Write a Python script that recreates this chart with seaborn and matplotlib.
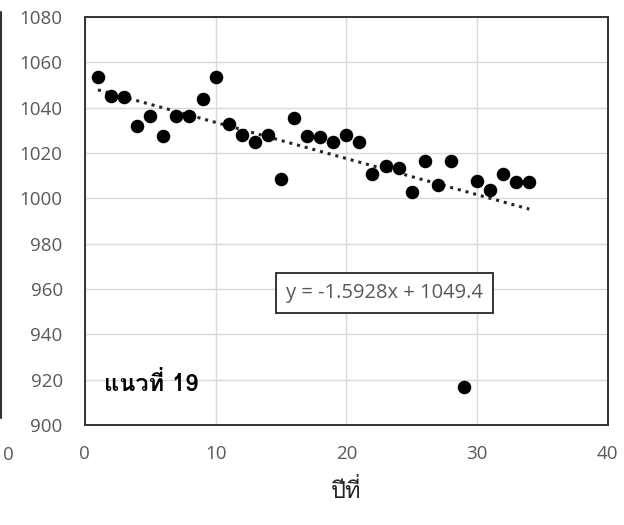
import numpy as np
import pandas as pd
import matplotlib
matplotlib.use("Agg")
import matplotlib.pyplot as plt
import seaborn as sns
from matplotlib.lines import Line2D

years = list(range(1, 35))
values = [1053.3, 1045.3, 1044.8, 1032.0, 1036.4, 1027.6, 1036.4, 1036.4, 1043.9, 1053.3,
          1032.6, 1028.0, 1025.0, 1028.0, 1008.6, 1035.5, 1027.6, 1027.2, 1025.0, 1027.8,
          1025.0, 1010.8, 1014.4, 1013.2, 1003.0, 1016.6, 1006.0, 1016.6, 916.8, 1007.8,
          1003.8, 1010.8, 1007.3, 1007.3]
trend_slope = -1.5928
trend_intercept = 1049.4
equation_text = "y = -1.5928x + 1049.4"
series_label = "แนวที่ 19"
x_label = "ปีที่"
x_ticks = [0, 10, 20, 30, 40]
y_ticks = [900, 920, 940, 960, 980, 1000, 1020, 1040, 1060, 1080]

df = pd.DataFrame({"year": years, "value": values})

sns.set_theme(style="white")
plt.rcParams['font.family'] = ['Open Sans', 'Loma', 'DejaVu Sans']
thai_fam = ['Loma', 'Open Sans', 'DejaVu Sans']

fig = plt.figure(figsize=(6.24, 5.25), dpi=100)
ax = fig.add_axes([0.136, 0.190, 0.838, 0.778])

xs = np.array([min(years), max(years)], dtype=float)
ax.plot(xs, trend_slope * xs + trend_intercept, linestyle=(0, (1, 1.6)), color="#262626",
        linewidth=2.2, zorder=2)
sns.scatterplot(data=df, x="year", y="value", ax=ax, color="black", s=95,
                edgecolor="black", linewidth=0, zorder=3)

ax.set_xlim(0, 40)
ax.set_ylim(900, 1080)
ax.set_xticks(x_ticks)
ax.set_yticks(y_ticks)
ax.grid(True, color="#d9d9d9", linewidth=1.0)
ax.set_axisbelow(True)
for sp in ax.spines.values():
    sp.set_color("#333333")
    sp.set_linewidth(1.4)
ax.tick_params(axis="both", length=0, labelsize=13.5, labelcolor="#595959")
ax.tick_params(axis="x", pad=14)
ax.tick_params(axis="y", pad=16)
ax.set_xlabel(x_label, fontsize=17, color="#262626", labelpad=12, family=thai_fam)
ax.set_ylabel("")

ax.text(22.9, 958.3, equation_text, ha="center", va="center", fontsize=14.5, color="#595959",
        bbox=dict(boxstyle="square,pad=0.5", facecolor="white", edgecolor="#262626", linewidth=1.3),
        zorder=5)
ax.text(1.5, 918, series_label, ha="left", va="center", fontsize=17, fontweight="bold",
        color="black", zorder=5, family=thai_fam)

# cropped neighbouring chart remnants
fig.add_artist(Line2D([0.002, 0.002], [1 - 12 / 525, 1 - 418 / 525], transform=fig.transFigure,
                      color="#333333", linewidth=1.5))
fig.text(8 / 624, 1 - 455 / 525, "0", ha="center", va="center", fontsize=13.5, color="#595959")

fig.savefig("out.png", dpi=100)
